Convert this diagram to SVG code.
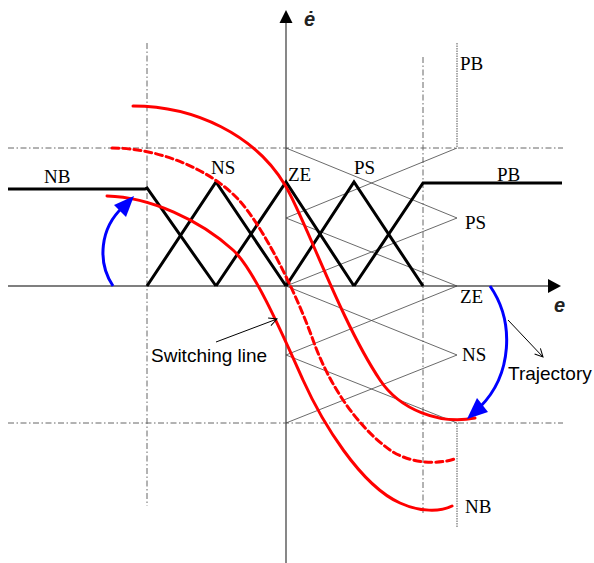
<svg xmlns="http://www.w3.org/2000/svg" width="594" height="563" viewBox="0 0 594 563">
<style>
.ax{stroke:#555;stroke-width:1.4;fill:none}
.dd{stroke:#666;stroke-width:1;fill:none;stroke-dasharray:6 2.5 1.5 2.5}
.dt{stroke:#555;stroke-width:1;fill:none;stroke-dasharray:1.5 1}
.th{stroke:#444;stroke-width:0.8;fill:none}
.mf{stroke:#000;stroke-width:3;fill:none;stroke-linejoin:miter}
.rd{stroke:#f00;stroke-width:3;fill:none;stroke-linecap:round}
.bl{stroke:#00f;stroke-width:3;fill:none}
.ptr{stroke:#000;stroke-width:1;fill:none}
.tm{font-family:"Liberation Serif",serif;font-size:19px;fill:#000}
.ar{font-family:"Liberation Sans",sans-serif;font-size:19px;fill:#000}
.ev{font-family:"Liberation Sans",sans-serif;font-size:20px;font-weight:bold;font-style:italic;fill:#222}
</style>
<defs>
<marker id="open" markerWidth="10" markerHeight="10" refX="9" refY="5" orient="auto" markerUnits="userSpaceOnUse">
<path d="M1,1 L9,5 L1,9" fill="none" stroke="#000" stroke-width="1"/>
</marker>
</defs>
<g id="grid">
<line class="dd" x1="8" y1="148" x2="563" y2="148"/>
<line class="dd" x1="8" y1="423" x2="563" y2="423"/>
<line class="dd" x1="147" y1="43" x2="147" y2="506"/>
<line class="dd" x1="423" y1="57" x2="423" y2="514"/>
<line class="dt" x1="457" y1="43" x2="457" y2="148"/>
<line class="dt" x1="457" y1="423" x2="457" y2="527"/>
</g>
<g id="axes">
<line class="ax" x1="8" y1="286" x2="550" y2="286"/>
<polygon points="561,286 548,279 548,293" fill="#000"/>
<line class="ax" x1="286" y1="563" x2="286" y2="22"/>
<polygon points="286,10 279.5,23 292.5,23" fill="#000"/>
</g>
<g id="edot-mf">
<polyline class="th" points="286,218 457,148"/>
<polyline class="th" points="286,148 457,218 286,286"/>
<polyline class="th" points="286,218 457,286 286,355"/>
<polyline class="th" points="286,286 457,355 286,423"/>
<polyline class="th" points="286,355 457,423"/>
</g>
<g id="e-mf">
<polyline class="mf" points="8,189 145,189 147,188 216,286"/>
<polyline class="mf" points="147,286 216,182 286,286"/>
<polyline class="mf" points="216,286 286,182 354,286"/>
<polyline class="mf" points="286,286 354,182 423,286"/>
<polyline class="mf" points="354,286 423,183 562,183"/>
</g>
<g id="trajectories">
<path class="rd" d="M133,106 C195,106 255,135 285,185 C305,218 340,320 380,380 C400,410 440,425 475,418"/>
<path class="rd" d="M112,148 C160,148 210,170 237,198 C262,224 295,290 313,340 C328,382 355,425 390,450 C410,464 440,465 457,458" stroke-dasharray="7 4" stroke-linecap="butt"/>
<path class="rd" d="M107,196 C150,197 200,220 233,250 C255,270 285,340 303,380 C322,422 360,485 400,503 C420,512 440,512 452,506"/>
</g>
<g id="connectors">
<path class="bl" d="M113,286 C97,262 100,228 123,207"/>
<polygon points="134,196 114,205 126,217" fill="#00f"/>
<path class="bl" d="M490,286 C515,322 512,375 480,407"/>
<polygon points="467,419 477,398 488,412" fill="#00f"/>
<line class="ptr" x1="216" y1="342" x2="277" y2="319" marker-end="url(#open)"/>
<line class="ptr" x1="508" y1="320" x2="543" y2="357" marker-end="url(#open)"/>
</g>
<g id="labels">
<text class="tm" x="44" y="183">NB</text>
<text class="tm" x="211" y="174">NS</text>
<text class="tm" x="288" y="181">ZE</text>
<text class="tm" x="354" y="174">PS</text>
<text class="tm" x="497" y="181">PB</text>
<text class="tm" x="460" y="70">PB</text>
<text class="tm" x="465" y="229">PS</text>
<text class="tm" x="460" y="303">ZE</text>
<text class="tm" x="462" y="361">NS</text>
<text class="tm" x="465" y="513">NB</text>
<text class="ar" x="151" y="362">Switching line</text>
<text class="ar" x="508" y="380">Trajectory</text>
<text class="ev" x="304" y="26">ė</text>
<text class="ev" x="554" y="312">e</text>
</g>
</svg>
